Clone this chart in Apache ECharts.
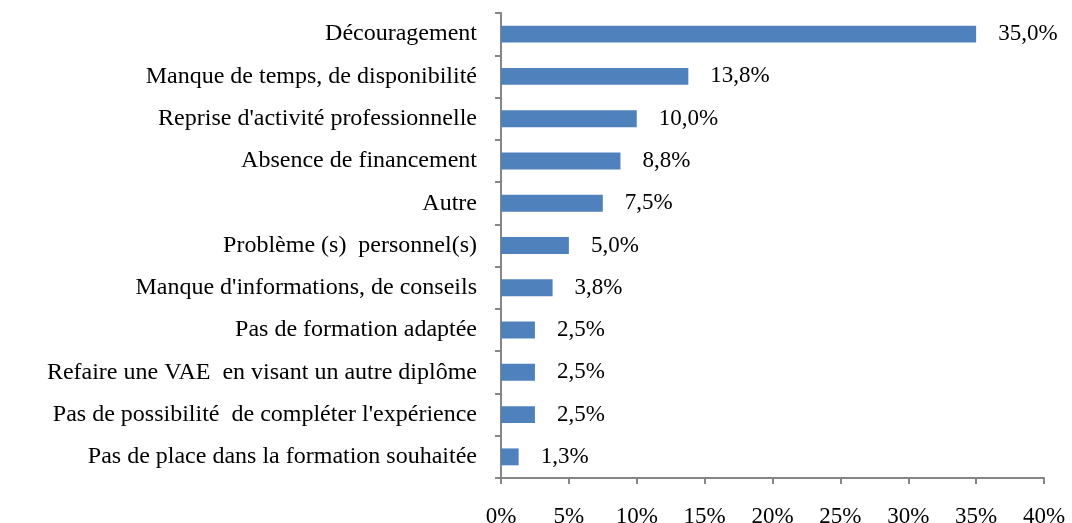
<!DOCTYPE html>
<html>
<head>
<meta charset="utf-8">
<script src="https://cdn.jsdelivr.net/npm/echarts@6/dist/echarts.min.js"></script>
<style>
  html, body { margin: 0; padding: 0; background: #fff; }
  #chart { width: 1072px; height: 523px; }
</style>
</head>
<body>
<div id="chart"></div>
<script>
// categories, top to bottom
var categories = [
    "Découragement",
    "Manque de temps, de disponibilité",
    "Reprise d'activité professionnelle",
    "Absence de financement",
    "Autre",
    "Problème (s)  personnel(s)",
    "Manque d'informations, de conseils",
    "Pas de formation adaptée",
    "Refaire une VAE  en visant un autre diplôme",
    "Pas de possibilité  de compléter l'expérience",
    "Pas de place dans la formation souhaitée"
];
var values = [35.0, 13.8, 10.0, 8.8, 7.5, 5.0, 3.8, 2.5, 2.5, 2.5, 1.3];
var xTicks = [0, 5, 10, 15, 20, 25, 30, 35, 40];

var font = "'Liberation Serif', 'Times New Roman', serif";
var axisColor = '#868686';

var myChart = echarts.init(document.getElementById('chart'));
var option = {
    animation: false,
    grid: {
        left: 501,
        right: 28,
        top: 13,
        bottom: 45,
        outerBoundsMode: 'none'
    },
    xAxis: {
        type: 'value',
        min: xTicks[0],
        max: xTicks[xTicks.length - 1],
        interval: 5,
        splitLine: { show: false },
        axisLine: { show: true, lineStyle: { color: axisColor, width: 2 } },
        axisTick: { show: true, length: 6, lineStyle: { color: axisColor, width: 2 } },
        axisLabel: {
            margin: 27,
            color: '#000',
            fontFamily: font,
            fontSize: 23,
            formatter: function (v) { return v + '%'; }
        }
    },
    yAxis: {
        type: 'category',
        data: categories,
        inverse: true,
        axisLine: { show: true, lineStyle: { color: axisColor, width: 2 } },
        axisTick: { show: true, length: 6, alignWithLabel: false, lineStyle: { color: axisColor, width: 2 } },
        axisLabel: {
            margin: 24,
            color: '#000',
            fontFamily: font,
            fontSize: 24
        }
    },
    series: [
        {
            type: 'bar',
            data: values,
            barWidth: '40%',
            itemStyle: { color: '#4F81BD' },
            label: {
                show: true,
                position: 'right',
                distance: 22,
                color: '#000',
                fontFamily: font,
                fontSize: 23,
                formatter: function (p) { return p.value.toFixed(1).replace('.', ',') + '%'; }
            }
        }
    ]
};
myChart.setOption(option);
</script>
</body>
</html>
